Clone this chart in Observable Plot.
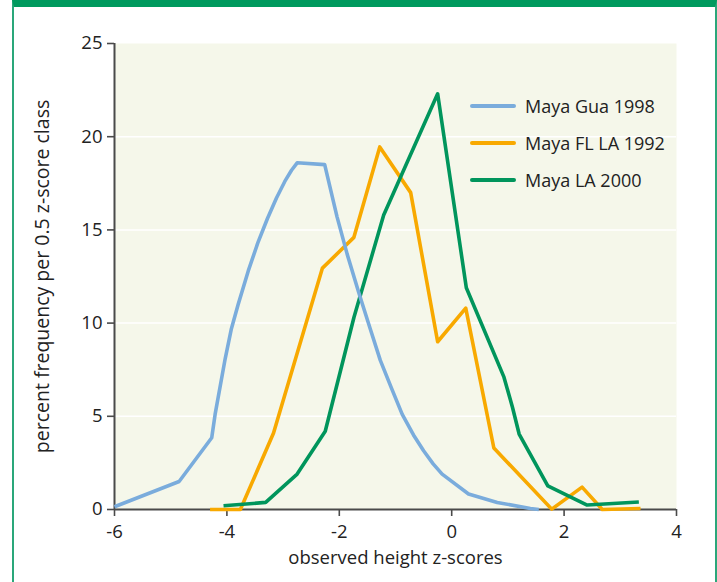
<!DOCTYPE html>
<html>
<head>
<meta charset="utf-8">
<script src="https://cdn.jsdelivr.net/npm/d3@7"></script>
<script src="https://cdn.jsdelivr.net/npm/@observablehq/plot@0.6"></script>
<style>
  html, body { margin: 0; padding: 0; background: #fff; }
  #page { position: relative; width: 717px; height: 582px; overflow: hidden; font-family: "Open Sans", sans-serif; }
  #frame { position: absolute; left: 12px; top: 0; width: 705px; height: 582px; box-sizing: border-box;
           border-top: 7px solid #009a5e; border-left: 2px solid #2aa77a; border-right: 2px solid #2aa77a; }
  #chart { position: absolute; left: 0; top: 0; }
  #legend { position: absolute; left: 470px; top: 87px; font-size: 18px; color: #222; }
  #legend .item { display: flex; align-items: center; height: 37px; }
  #legend .sw { width: 46px; height: 4px; border-radius: 2px; margin-right: 9px; }
</style>
</head>
<body>
<div id="page">
  <div id="frame"></div>
  <div id="chart"></div>
  <div id="legend"></div>
</div>
<script>
// Series names and colours
const seriesNames = ["Maya Gua 1998", "Maya FL LA 1992", "Maya LA 2000"];
const seriesColors = ["#7aacdc", "#f8a900", "#00955c"];

// Maya Gua 1998 (z-score, percent)
const guaX = [-6.0, -4.85, -4.27, -4.21, -4.03, -3.92, -3.80, -3.62, -3.45, -3.28, -3.12, -2.97, -2.85, -2.75, -2.26, -2.04, -1.86, -1.65, -1.45, -1.27, -1.07, -0.88, -0.68, -0.50, -0.33, -0.17, 0.30, 0.81, 1.40, 1.55];
const guaY = [0.15, 1.5, 3.85, 5.1, 8.1, 9.7, 11.0, 12.8, 14.3, 15.6, 16.7, 17.6, 18.2, 18.6, 18.5, 15.7, 13.7, 11.6, 9.7, 8.0, 6.5, 5.1, 4.0, 3.15, 2.45, 1.9, 0.83, 0.38, 0.05, 0.0];

// Maya FL LA 1992
const flX = [-4.3, -3.76, -3.17, -2.30, -1.74, -1.28, -0.73, -0.25, 0.25, 0.75, 1.78, 2.32, 2.68, 3.36];
const flY = [0.0, 0.0, 4.1, 12.95, 14.6, 19.45, 17.0, 9.0, 10.8, 3.3, 0.02, 1.2, 0.0, 0.05];

// Maya LA 2000
const laX = [-4.06, -3.31, -2.75, -2.25, -1.74, -1.21, -0.25, 0.26, 0.93, 1.08, 1.20, 1.71, 2.41, 3.33];
const laY = [0.2, 0.38, 1.9, 4.2, 10.3, 15.8, 22.3, 11.9, 7.1, 5.5, 4.05, 1.27, 0.24, 0.4];

// Axis ticks and labels
const xTicks = [-6, -4, -2, 0, 2, 4];
const yTicks = [0, 5, 10, 15, 20, 25];
const yGrid = [5, 10, 15, 20];
const xLabel = "observed height z-scores";
const yLabel = "percent frequency per 0.5 z-score class";

const seriesX = [guaX, flX, laX];
const seriesY = [guaY, flY, laY];
const data = seriesNames.flatMap((name, i) =>
  seriesX[i].map((x, j) => ({series: name, x, y: seriesY[i][j]})));

const drawOrder = [1, 2, 0];
const lineMarks = drawOrder.map(i =>
  Plot.line(data.filter(d => d.series === seriesNames[i]), {
    x: "x", y: "y", stroke: seriesColors[i], strokeWidth: 3.6,
    strokeLinejoin: "round", strokeLinecap: "butt"
  }));

const fmt = d => (d < 0 ? "-" + Math.abs(d) : String(d));

const chart = Plot.plot({
  width: 717,
  height: 582,
  marginLeft: 114,
  marginRight: 41,
  marginTop: 43,
  marginBottom: 73,
  x: {domain: [-6, 4]},
  y: {domain: [0, 25]},
  style: {fontFamily: "'Open Sans', sans-serif", fontSize: "17px", color: "#222", background: "transparent", overflow: "visible"},
  marks: [
    Plot.frame({fill: "#f5f7ea", stroke: null}),
    Plot.gridY(yGrid, {stroke: "#ffffff", strokeOpacity: 1, strokeWidth: 1.5}),
    Plot.axisY({ticks: yTicks, tickSize: 7, tickPadding: 5, tickFormat: fmt, label: null, stroke: "#4a4a4a", strokeWidth: 1.6, fontSize: 18.5, fill: "#222"}),
    Plot.axisX({ticks: xTicks, tickSize: 7, tickPadding: 8, tickFormat: fmt, label: null, stroke: "#4a4a4a", strokeWidth: 1.6, fontSize: 18.5, fill: "#222"}),
    Plot.ruleX([-6], {stroke: "#4a4a4a", strokeWidth: 2}),
    Plot.ruleY([0], {stroke: "#4a4a4a", strokeWidth: 2}),
    ...lineMarks,
    Plot.text([xLabel], {frameAnchor: "bottom", dy: 54, fontSize: 18.5, fill: "#222", textAnchor: "middle"}),
    Plot.text([yLabel], {frameAnchor: "left", dx: -72, rotate: -90, fontSize: 19.5, fill: "#222", textAnchor: "middle"})
  ]
});
d3.select(chart).selectAll('g[aria-label$="tick label"]').attr("font-size", 18.5);
document.getElementById("chart").appendChild(chart);

const legend = document.getElementById("legend");
seriesNames.forEach((name, i) => {
  const item = document.createElement("div");
  item.className = "item";
  const sw = document.createElement("span");
  sw.className = "sw";
  sw.style.background = seriesColors[i];
  const label = document.createElement("span");
  label.textContent = name;
  item.appendChild(sw);
  item.appendChild(label);
  legend.appendChild(item);
});
</script>
</body>
</html>
